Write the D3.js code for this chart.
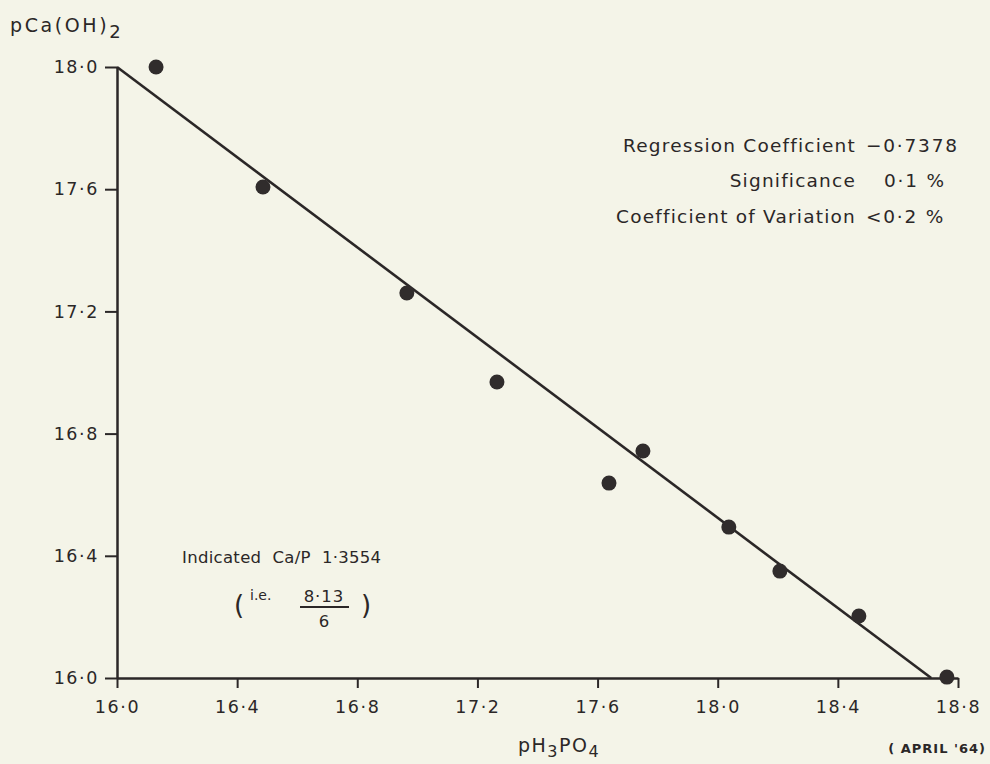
<!DOCTYPE html>
<html>
<head>
<meta charset="utf-8">
<script src="https://cdn.jsdelivr.net/npm/d3@7"></script>
<style>
  body { margin: 0; background: #f4f4e8; }
  svg { display: block; }
  text { font-family: "DejaVu Sans", sans-serif; fill: #2b2727; }
</style>
</head>
<body>
<div id="chart"></div>
<script>
// pH3PO4 (x) against pCa(OH)2 (y)
var pH3PO4 = [16.13, 16.486, 16.965, 17.265, 17.638, 17.751, 18.037, 18.207, 18.47, 18.763];
var pCaOH2 = [18.0, 17.607, 17.26, 16.969, 16.638, 16.743, 16.494, 16.35, 16.203, 16.003];

var xTicks = [16.0, 16.4, 16.8, 17.2, 17.6, 18.0, 18.4, 18.8];
var yTicks = [16.0, 16.4, 16.8, 17.2, 17.6, 18.0];

// fitted line: starts at (16.0, 18.0), runs down to pCa = 16.0
var regressionCoef = -0.7378;
var lineStart = [16.0, 18.0];

var statLabels = ["Regression Coefficient", "Significance", "Coefficient of Variation"];
var statValues = ["\u22120\u00b77378", "0\u00b71 %", "<0\u00b72 %"];

var width = 990, height = 764;
var ink = "#2b2727";

var svg = d3.select("#chart").append("svg")
  .attr("width", width)
  .attr("height", height);

var x = d3.scaleLinear().domain([16.0, 18.8]).range([117, 958]);
var y = d3.scaleLinear().domain([16.0, 18.0]).range([678, 67]);

function dotFmt(d) {
  return d3.format(".1f")(d).replace(".", "\u00b7");
}

// axes
var xAxis = svg.append("g")
  .attr("transform", "translate(0," + y(16.0) + ")")
  .call(d3.axisBottom(x).tickValues(xTicks).tickFormat(dotFmt).tickSize(10).tickPadding(13).tickSizeOuter(0));

var yAxis = svg.append("g")
  .attr("transform", "translate(" + x(16.0) + ",0)")
  .call(d3.axisLeft(y).tickValues(yTicks).tickFormat(dotFmt).tickSize(12).tickPadding(6).tickSizeOuter(0));

[xAxis, yAxis].forEach(function (g) {
  g.select(".domain").attr("stroke", ink).attr("stroke-width", 2.5);
  g.selectAll(".tick line").attr("stroke", ink).attr("stroke-width", 2);
  g.selectAll(".tick text")
    .attr("fill", ink)
    .style("font-size", "17.5px")
    .style("letter-spacing", "1.6px")
    .style("font-family", "'DejaVu Sans', sans-serif");
});

// regression line
var lineEndX = lineStart[0] + (16.0 - lineStart[1]) / regressionCoef;
svg.append("line")
  .attr("x1", x(lineStart[0]))
  .attr("y1", y(lineStart[1]))
  .attr("x2", x(lineEndX))
  .attr("y2", y(16.0))
  .attr("stroke", ink)
  .attr("stroke-width", 2.6);

// points
svg.selectAll("circle.pt")
  .data(pH3PO4)
  .enter()
  .append("circle")
  .attr("class", "pt")
  .attr("cx", function (d) { return x(d); })
  .attr("cy", function (d, i) { return y(pCaOH2[i]); })
  .attr("r", 7.5)
  .attr("fill", "#302c2c");

// axis titles
var yTitle = svg.append("text")
  .attr("x", 10)
  .attr("y", 32)
  .style("font-size", "19px")
  .style("letter-spacing", "2.6px");
yTitle.append("tspan").text("pCa(OH)");
yTitle.append("tspan").attr("dy", 6).style("font-size", "18px").text("2");

var xTitle = svg.append("text")
  .attr("x", 518)
  .attr("y", 752)
  .style("font-size", "19px")
  .style("letter-spacing", "1.5px");
xTitle.append("tspan").text("pH");
xTitle.append("tspan").attr("dy", 5).style("font-size", "16px").text("3");
xTitle.append("tspan").attr("dy", -5).text("PO");
xTitle.append("tspan").attr("dy", 5).style("font-size", "16px").text("4");

svg.append("text")
  .attr("x", 986)
  .attr("y", 753)
  .attr("text-anchor", "end")
  .style("font-size", "13px")
  .style("font-weight", "bold")
  .style("letter-spacing", "1px")
  .text("( APRIL '64)");

// statistics block
var statY = [152, 187, 223];
svg.selectAll("text.statLabel")
  .data(statLabels)
  .enter()
  .append("text")
  .attr("class", "statLabel")
  .attr("x", 856)
  .attr("y", function (d, i) { return statY[i]; })
  .attr("text-anchor", "end")
  .style("font-size", "18.5px")
  .style("letter-spacing", "1.2px")
  .text(function (d) { return d; });

svg.selectAll("text.statValue")
  .data(statValues)
  .enter()
  .append("text")
  .attr("class", "statValue")
  .attr("x", function (d, i) { return i === 1 ? 884 : 866; })
  .attr("y", function (d, i) { return statY[i]; })
  .style("font-size", "18.5px")
  .style("letter-spacing", "1.8px")
  .text(function (d) { return d; });

// Ca/P note
svg.append("text")
  .attr("x", 182)
  .attr("y", 563)
  .style("font-size", "16.5px")
  .style("letter-spacing", "0.3px")
  .attr("xml:space", "preserve")
  .text("Indicated  Ca/P  1\u00b73554");

svg.append("text")
  .attr("x", 234)
  .attr("y", 614)
  .style("font-size", "26px")
  .text("(");
svg.append("text")
  .attr("x", 250)
  .attr("y", 600)
  .style("font-size", "14px")
  .text("i.e.");
svg.append("text")
  .attr("x", 324)
  .attr("y", 602)
  .attr("text-anchor", "middle")
  .style("font-size", "16.5px")
  .style("letter-spacing", "1px")
  .text("8\u00b713");
svg.append("line")
  .attr("x1", 300).attr("x2", 349)
  .attr("y1", 607).attr("y2", 607)
  .attr("stroke", ink)
  .attr("stroke-width", 1.8);
svg.append("text")
  .attr("x", 324)
  .attr("y", 627)
  .attr("text-anchor", "middle")
  .style("font-size", "16.5px")
  .text("6");
svg.append("text")
  .attr("x", 361)
  .attr("y", 614)
  .style("font-size", "26px")
  .text(")");
</script>
</body>
</html>
